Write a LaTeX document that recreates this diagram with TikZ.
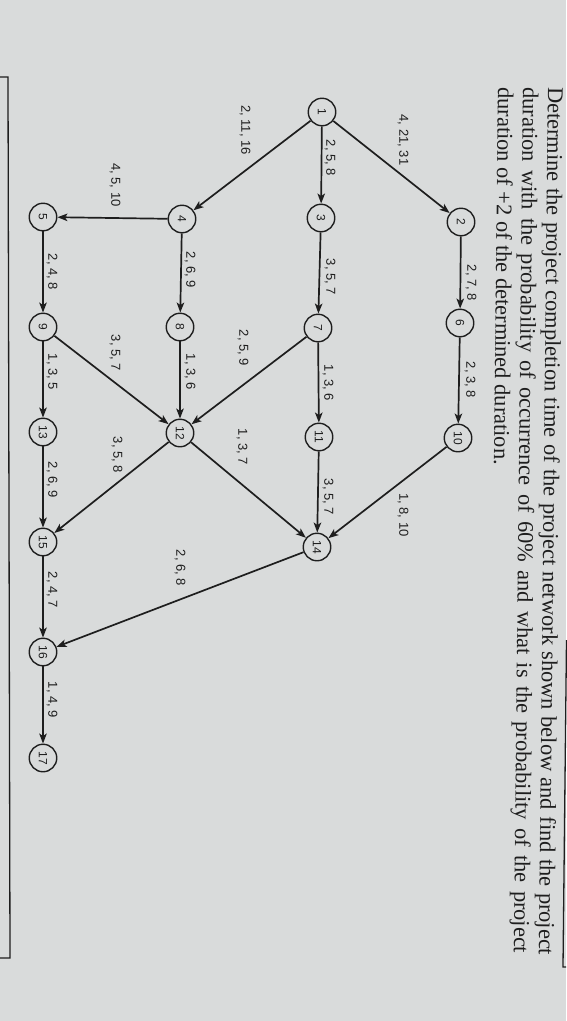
\documentclass[tikz,border=0pt]{standalone}
\usepackage{fontspec}
\setmainfont{Liberation Serif}
\setsansfont{Liberation Sans}
\usetikzlibrary{arrows.meta}
\definecolor{bg}{RGB}{217,219,219}
\definecolor{ink}{RGB}{30,30,30}
\begin{document}
\begin{tikzpicture}[x=1pt,y=-1pt,
  ev/.style={circle, draw=ink, line width=1.4pt, minimum size=27.5pt, inner sep=0pt,
             font=\sffamily\fontsize{12}{12}\selectfont, text=ink, rotate=-90},
  act/.style={-{Stealth[length=10pt,width=7.5pt,inset=2.5pt]}, draw=ink, line width=1.7pt},
  lbl/.style={font=\sffamily\fontsize{13}{13}\selectfont, text=ink, rotate=-90, inner sep=0pt},
  qline/.style={font=\fontsize{22.4}{25}\selectfont, text=ink, anchor=base west,
                rotate=-90.6, inner sep=0pt},
  frame/.style={draw=ink, line width=1.3pt}]
\useasboundingbox (0,0) rectangle (566,1021);
\fill[bg] (0,0) rectangle (566,1021);

% frame lines
\draw[frame] (0,77) -- (8,77) -- (10,958) -- (0,958);
\draw[frame] (566.5,640) -- (563,967) -- (566,967);

% question text
\node[qline] (t1) at (548,87) {\makebox[868pt][s]{Determine the project completion time of the project network shown below and find the project}};
\node[qline] (t2) at (523,87) {\makebox[866pt][s]{duration with the probability of occurrence of 60\% and what is the probability of the project}};
\node[qline] (t3) at (498,87) {duration of +2 of the determined duration.};

% events
\node[ev] (n1)  at (322,112) {1};
\node[ev] (n2)  at (461,222) {2};
\node[ev] (n3)  at (321,218) {3};
\node[ev] (n4)  at (182,219) {4};
\node[ev] (n5)  at (43,217)  {5};
\node[ev] (n6)  at (460,323) {6};
\node[ev] (n7)  at (318,328) {7};
\node[ev] (n8)  at (180,327) {8};
\node[ev] (n9)  at (43,327)  {9};
\node[ev] (n10) at (458,438) {10};
\node[ev] (n11) at (319,437) {11};
\node[ev] (n12) at (180,433) {12};
\node[ev] (n13) at (43,432)  {13};
\node[ev] (n14) at (317,547) {14};
\node[ev] (n15) at (43,542)  {15};
\node[ev] (n16) at (43,652)  {16};
\node[ev] (n17) at (43,758)  {17};

% activities
\draw[act] (n1) -- (n2);
\draw[act] (n1) -- (n3);
\draw[act] (n1) -- (n4);
\draw[act] (n2) -- (n6);
\draw[act] (n6) -- (n10);
\draw[act] (n3) -- (n7);
\draw[act] (n7) -- (n11);
\draw[act] (n10) -- (n14);
\draw[act] (n11) -- (n14);
\draw[act] (n4) -- (n5);
\draw[act] (n4) -- (n8);
\draw[act] (n5) -- (n9);
\draw[act] (n8) -- (n12);
\draw[act] (n9) -- (n12);
\draw[act] (n7) -- (n12);
\draw[act] (n9) -- (n13);
\draw[act] (n12) -- (n14);
\draw[act] (n12) -- (n15);
\draw[act] (n13) -- (n15);
\draw[act] (n15) -- (n16);
\draw[act] (n14) -- (n16);
\draw[act] (n16) -- (n17);

% activity labels
\node[lbl] (a12)   at (403,140) {4, 21, 31};
\node[lbl] (a13)   at (330,158) {2, 5, 8};
\node[lbl] (a14)   at (245,130) {2, 11, 16};
\node[lbl] (a26)   at (471,283) {2, 7, 8};
\node[lbl] (a610)  at (470,380) {2, 3, 8};
\node[lbl] (a37)   at (330,277) {3, 5, 7};
\node[lbl] (a711)  at (328,383) {1, 3, 6};
\node[lbl] (a1014) at (403,515) {1, 8, 10};
\node[lbl] (a1114) at (328,497) {3, 5, 7};
\node[lbl] (a45)   at (115,185) {4, 5, 10};
\node[lbl] (a48)   at (190,270) {2, 6, 9};
\node[lbl] (a59)   at (52,272)  {2, 4, 8};
\node[lbl] (a812)  at (190,372) {1, 3, 6};
\node[lbl] (a912)  at (115,353) {3, 5, 7};
\node[lbl] (a712)  at (243,348) {2, 5, 9};
\node[lbl] (a913)  at (52,372)  {1, 3, 5};
\node[lbl] (a1214) at (242,447) {1, 3, 7};
\node[lbl] (a1215) at (117,455) {3, 5, 8};
\node[lbl] (a1315) at (52,480)  {2, 6, 9};
\node[lbl] (a1516) at (52,590)  {2, 4, 7};
\node[lbl] (a1416) at (180,568) {2, 6, 8};
\node[lbl] (a1617) at (52,700)  {1, 4, 9};
\end{tikzpicture}
\end{document}
